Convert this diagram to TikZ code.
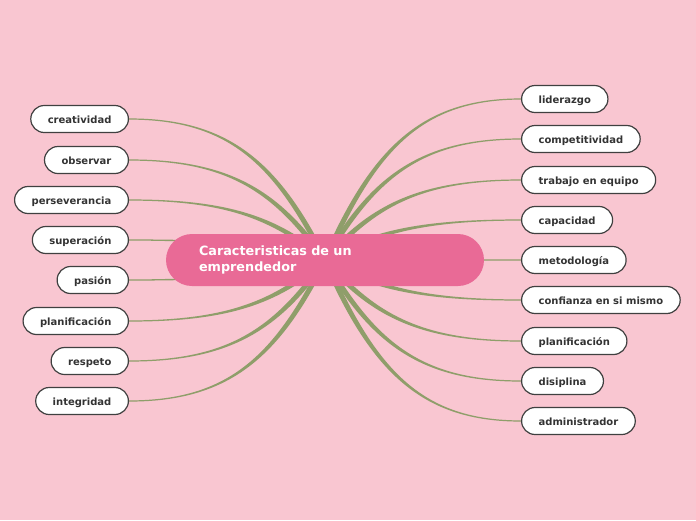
\documentclass[tikz,border=0pt]{standalone}
\usepackage{fontspec}
\setmainfont{DejaVu Sans}
\usetikzlibrary{calc}
\usetikzlibrary{backgrounds}

\definecolor{bgpink}{RGB}{249,198,209}
\definecolor{rootpink}{RGB}{233,106,150}
\definecolor{stem}{RGB}{143,158,106}
\definecolor{rim}{RGB}{64,64,64}
\definecolor{ink}{RGB}{51,51,51}

% tapered branch from the root to one leaf
\newcommand{\branch}[2]{%
	\fill[stem] let \p1=(root.center), \p2=(#1.#2),
		\n1={\x2-\x1}, \n2={\y2-\y1},
		\n3={veclen(0.25*(\n1),0.7*(\n2))},
		\n4={-0.7*(\n2)/(\n3)*2.6}, \n5={0.25*(\n1)/(\n3)*2.6},
		\n6={0.6*(\n1)/abs(\n1)},
		\n7={0.25*(\n1)}, \n8={0.7*(\n2)}, \n9={0.5*(\n1)}
	in ({\x1+\n4},{\y1+\n5}) .. controls ({\x1+\n7+\n4},{\y1+\n8+\n5}) and ({\x2-\n9},{\y2+\n6}) .. ({\x2},{\y2+\n6})
	-- ({\x2},{\y2-\n6}) .. controls ({\x2-\n9},{\y2-\n6}) and ({\x1+\n7-\n4},{\y1+\n8-\n5}) .. ({\x1-\n4},{\y1-\n5}) -- cycle;}

\begin{document}
\begin{tikzpicture}[
		x=1pt, y=-1pt,
		root/.style={
			fill=rootpink,
			rectangle,
			rounded corners=26pt,
			minimum width=318pt,
			minimum height=52pt,
			inner xsep=33pt,
			text width=252pt,
			align=left,
			text=white,
			font=\fontsize{12.8}{16}\selectfont\bfseries},
		leaf/.style={
			draw=rim,
			line width=1.2pt,
			fill=white,
			rectangle,
			rounded corners=13.5pt,
			minimum height=27pt,
			inner xsep=17pt,
			text height=9pt,
			text depth=0pt,
			text=ink,
			font=\fontsize{10}{12}\selectfont\bfseries},
		]

		%Bounding box
		\useasboundingbox (0,0) rectangle (696,520);

		%Root
		\node (root)[root] at (325,260) {Caracteristicas de un\\emprendedor};

		%Left leaves
		\foreach \word/\y [count=\i] in {creatividad/119, observar/160, perseverancia/200, superación/240, pasión/280, planificación/321, respeto/361, integridad/401}{
			\node (l\i)[leaf, anchor=east] at (129,\y) {\word};
		}

		%Right leaves
		\foreach \word/\y [count=\i] in {liderazgo/99, competitividad/139, trabajo en equipo/180, capacidad/220, metodología/260, confianza en si mismo/300, planificación/341, disiplina/381, administrador/421}{
			\node (r\i)[leaf, anchor=west] at (521,\y) {\word};
		}

		%Branches
		\begin{scope}[on background layer]
			\fill[bgpink] (0,0) rectangle (696,520);
			\foreach \i in {1,...,8}{\branch{l\i}{east}}
			\foreach \i in {1,...,9}{\branch{r\i}{west}}
		\end{scope}

	\end{tikzpicture}
\end{document}
